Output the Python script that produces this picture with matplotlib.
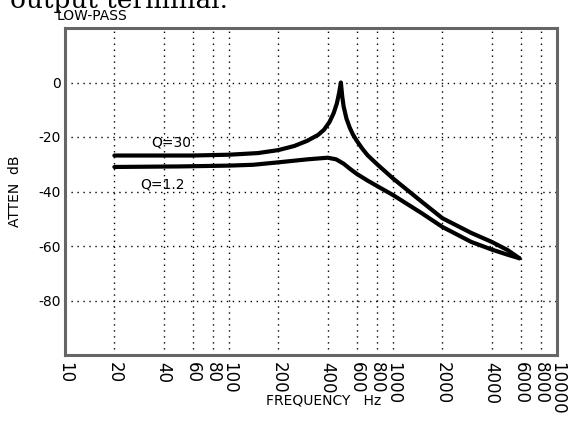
import numpy as np
import matplotlib
matplotlib.use("Agg")
import matplotlib.pyplot as plt
from matplotlib.ticker import FixedLocator, NullLocator, FixedFormatter

# ---------------------------------------------------------------------------
# Data (frequency in Hz, attenuation in dB)
# ---------------------------------------------------------------------------
freq_q30 = [20, 40, 60, 100, 150, 200, 250, 300, 350, 380, 410, 435, 455, 470,
            481, 490, 500, 520, 545, 570, 600, 650, 700, 800, 1000, 1500, 2000,
            3000, 4000, 5000, 5900]
db_q30 = [-26.8, -26.8, -26.8, -26.5, -25.9, -24.8, -23.3, -21.4, -19.2, -17.3,
          -14.5, -11.2, -7.6, -3.6, 0.0, -5.0, -8.8, -13.2, -16.6, -19.1,
          -21.3, -24.3, -26.7, -30.0, -35.2, -43.8, -49.8, -55.2, -58.5,
          -61.5, -64.5]

freq_q12 = [20, 50, 100, 140, 200, 300, 400, 450, 500, 550, 600, 700, 800,
            1000, 1500, 2000, 3000, 4000, 5000, 5900]
db_q12 = [-31.0, -30.8, -30.5, -30.2, -29.3, -28.2, -27.6, -28.2, -29.8, -31.8,
          -33.5, -36.0, -38.0, -41.3, -48.0, -53.0, -58.5, -61.3, -63.2, -64.5]

x_ticks = [10, 20, 40, 60, 80, 100, 200, 400, 600, 800, 1000, 2000, 4000,
           6000, 8000, 10000]
y_ticks = [0, -20, -40, -60, -80]

# ---------------------------------------------------------------------------
W, H = 569, 421
fig = plt.figure(figsize=(W / 100, H / 100), dpi=100)
ax = fig.add_axes([65 / W, 1 - 355 / H, 492 / W, 327 / H])

ax.plot(freq_q30, db_q30, color='black', lw=3, solid_capstyle='round',
        solid_joinstyle='round', zorder=3)
ax.plot(freq_q12, db_q12, color='black', lw=3, solid_capstyle='round',
        solid_joinstyle='round', zorder=3)

ax.text(33.8, -22, 'Q=30', fontsize=10, va='center', ha='left')
ax.text(28.6, -37.3, 'Q=1.2', fontsize=10, va='center', ha='left')

ax.set_xscale('log')
ax.set_xlim(10, 10000)
ax.set_ylim(-100, 20)

ax.xaxis.set_major_locator(FixedLocator(x_ticks))
ax.xaxis.set_major_formatter(FixedFormatter([str(t) for t in x_ticks]))
ax.xaxis.set_minor_locator(NullLocator())
ax.set_yticks(y_ticks)
ax.set_yticklabels([str(t) for t in y_ticks])

ax.tick_params(axis='both', length=0)
ax.tick_params(axis='x', labelsize=12, pad=5, labelrotation=-90)
ax.tick_params(axis='y', labelsize=10, pad=3)
for lab in ax.get_xticklabels():
    lab.set_verticalalignment('top')
    lab.set_horizontalalignment('center')

# dotted grid
ax.grid(True, which='major', color='black', lw=1, ls=(0, (1, 3.3)))
for s in ax.spines.values():
    s.set_color('#666666')
    s.set_linewidth(2.2)

ax.set_xlabel('FREQUENCY   Hz', fontsize=10)
ax.xaxis.set_label_coords((324 - 65) / 492, -(400 - 355) / 327)
ax.xaxis.label.set_verticalalignment('center')
ax.set_ylabel('ATTEN  dB', fontsize=10)
ax.yaxis.set_label_coords(-(65 - 15) / 492, 0.5)
ax.yaxis.label.set_verticalalignment('center')

fig.text(57 / W, 1 - 16 / H, 'LOW-PASS', fontsize=10, va='center', ha='left')
fig.text(10 / W, 1 - 8 / H, 'output terminal.', fontsize=19,
         family='DejaVu Serif', va='baseline', ha='left')

fig.savefig('out.png', dpi=100)
